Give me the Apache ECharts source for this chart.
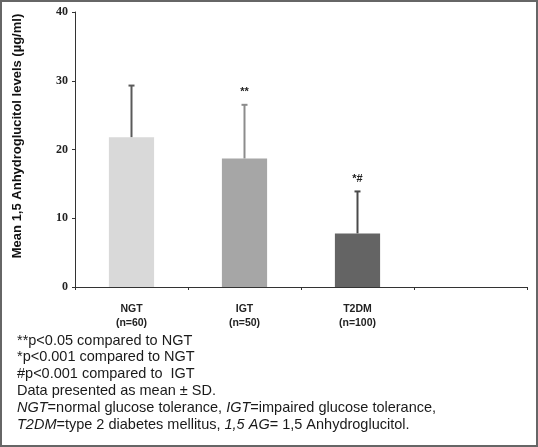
<!DOCTYPE html>
<html><head><meta charset="utf-8">
<script src="https://cdn.jsdelivr.net/npm/echarts@6/dist/echarts.min.js"></script>
<style>html,body{margin:0;padding:0;background:#fff}#c{width:538px;height:447px}</style>
</head><body><div id="c"></div>
<script>
const categories = ['NGT\n(n=60)', 'IGT\n(n=50)', 'T2DM\n(n=100)', ''];
const means = [21.8, 18.7, 7.8, null];
const sds = [7.5, 7.8, 6.1, null];
const marks = ['', '**', '*#', ''];
const barColors = ['#d9d9d9', '#a6a6a6', '#646464', '#ffffff'];
const errColors = ['#5a5a5a', '#8c8c8c', '#4a4a4a', '#000'];
const yTicks = [0, 10, 20, 30, 40];
const yTitle = 'Mean 1,5 Anhydroglucitol levels (\u00b5g/ml)';
const footnotes = [
  '**p<0.05 compared to NGT',
  '*p<0.001 compared to NGT',
  '#p<0.001 compared to  IGT',
  'Data presented as mean \u00b1 SD.',
  '{i|NGT}=normal glucose tolerance, {i|IGT}=impaired glucose tolerance,',
  '{i|T2DM}=type 2 diabetes mellitus, {i|1,5 AG}= 1,5 Anhydroglucitol.'
];

const chart = echarts.init(document.getElementById('c'), null, {renderer: 'canvas'});
const errData = means.map((m, i) => m == null ? null : [i, m, m + sds[i]]).filter(d => d);

const footGraphics = footnotes.map((t, i) => ({
  type: 'text', left: 17, top: 333 + i * 16.8,
  style: {
    text: t, fill: '#1a1a1a', font: '14.5px Arial, "Liberation Sans", sans-serif',
    rich: { i: { fontStyle: 'italic', fontSize: 14.5, fontFamily: 'Arial, "Liberation Sans", sans-serif', fill: '#1a1a1a' } }
  }
}));

chart.setOption({
  animation: false,
  backgroundColor: '#fff',
  grid: { left: 75, right: 11, top: 12, bottom: 160 },
  xAxis: {
    type: 'category', data: categories,
    axisLine: { lineStyle: { color: '#333', width: 1 } },
    axisTick: { show: true, length: 3, lineStyle: { color: '#333' } },
    axisLabel: { color: '#222', fontWeight: 'bold', fontSize: 10.5, fontFamily: 'Arial, "Liberation Sans", sans-serif', margin: 15, lineHeight: 14 }
  },
  yAxis: {
    type: 'value', min: yTicks[0], max: yTicks[yTicks.length - 1], interval: 10,
    splitLine: { show: false },
    axisLine: { show: true, lineStyle: { color: '#333' } },
    axisTick: { show: true, length: 3, inside: false, lineStyle: { color: '#333' } },
    axisLabel: { color: '#222', fontWeight: 'bold', fontSize: 12, fontFamily: '"Liberation Serif", "Times New Roman", serif', margin: 7 }
  },
  graphic: [
    { type: 'rect', shape: { x: 1, y: 1, width: 536, height: 445 }, style: { fill: 'none', stroke: '#666', lineWidth: 2 }, silent: true },
    { type: 'text', x: 17, y: 136, rotation: Math.PI / 2,
      style: { text: yTitle, textAlign: 'center', textVerticalAlign: 'middle', font: 'bold 13px Arial, "Liberation Sans", sans-serif', fill: '#111' } }
  ].concat(footGraphics),
  series: [
    {
      type: 'bar', barWidth: '40%',
      data: means.map((m, i) => ({ value: m, itemStyle: { color: barColors[i] } })),
      z: 2
    },
    {
      type: 'custom', z: 3,
      data: errData,
      renderItem: function (params, api) {
        const i = api.value(0);
        const p0 = api.coord([i, api.value(1)]);
        const p1 = api.coord([i, api.value(2)]);
        const c = errColors[i];
        return {
          type: 'group',
          children: [
            { type: 'line', shape: { x1: p0[0], y1: p0[1], x2: p1[0], y2: p1[1] }, style: { stroke: c, lineWidth: 2 } },
            { type: 'line', shape: { x1: p1[0] - 3, y1: p1[1], x2: p1[0] + 3, y2: p1[1] }, style: { stroke: c, lineWidth: 2 } },
            { type: 'text', x: p1[0], y: p1[1] - 7, style: { text: marks[i], textAlign: 'center', textVerticalAlign: 'bottom', font: 'bold 11px Arial, "Liberation Sans", sans-serif', fill: '#222' } }
          ]
        };
      }
    }
  ]
});
</script>
</body></html>
